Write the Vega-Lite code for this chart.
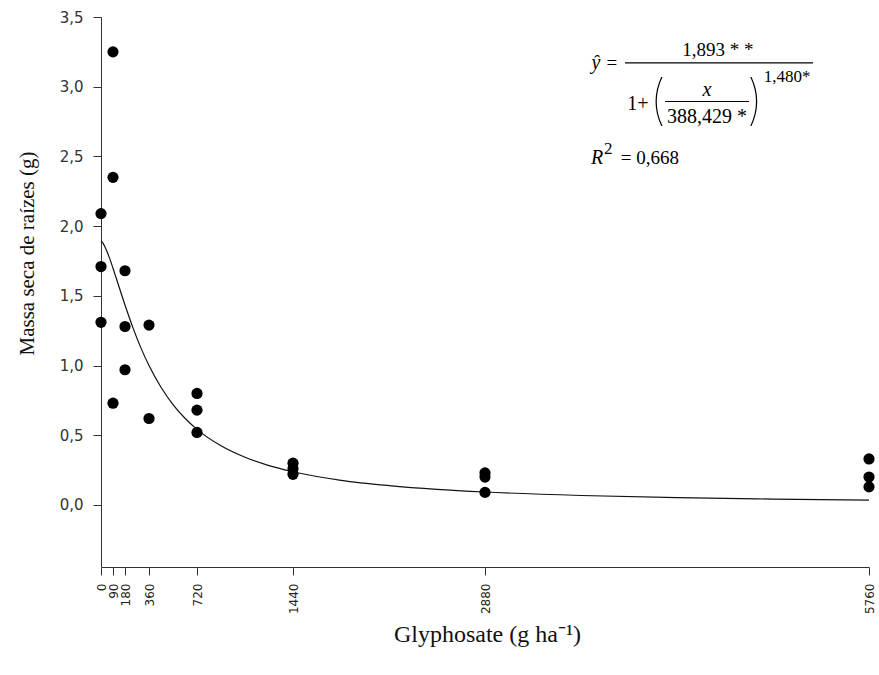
{
  "$schema": "https://vega.github.io/schema/vega-lite/v6.json",
  "width": 768,
  "height": 550,
  "autosize": {"type": "none"},
  "padding": {"left": 101, "top": 17, "right": 10, "bottom": 108},
  "background": "white",
  "config": {"view": {"stroke": null}, "axis": {"grid": false}},
  "datasets": {
    "obs": [
      {"x": 0, "y": 2.09}, {"x": 0, "y": 1.71}, {"x": 0, "y": 1.31},
      {"x": 90, "y": 3.25}, {"x": 90, "y": 2.35}, {"x": 90, "y": 0.73},
      {"x": 180, "y": 1.68}, {"x": 180, "y": 1.28}, {"x": 180, "y": 0.97},
      {"x": 360, "y": 1.29}, {"x": 360, "y": 0.62},
      {"x": 720, "y": 0.80}, {"x": 720, "y": 0.68}, {"x": 720, "y": 0.52},
      {"x": 1440, "y": 0.30}, {"x": 1440, "y": 0.26}, {"x": 1440, "y": 0.22},
      {"x": 2880, "y": 0.23}, {"x": 2880, "y": 0.20}, {"x": 2880, "y": 0.09},
      {"x": 5760, "y": 0.33}, {"x": 5760, "y": 0.20}, {"x": 5760, "y": 0.13}
    ],
    "fit": [
      {"x": 0, "y": 1.893}, {"x": 15, "y": 1.878}, {"x": 30, "y": 1.851},
      {"x": 45, "y": 1.818}, {"x": 60, "y": 1.781}, {"x": 90, "y": 1.698},
      {"x": 120, "y": 1.610}, {"x": 180, "y": 1.434}, {"x": 240, "y": 1.270},
      {"x": 300, "y": 1.125}, {"x": 360, "y": 1.000}, {"x": 450, "y": 0.844},
      {"x": 540, "y": 0.720}, {"x": 630, "y": 0.622}, {"x": 720, "y": 0.542},
      {"x": 900, "y": 0.424}, {"x": 1080, "y": 0.342}, {"x": 1260, "y": 0.282},
      {"x": 1440, "y": 0.238}, {"x": 1800, "y": 0.177}, {"x": 2160, "y": 0.139},
      {"x": 2520, "y": 0.112}, {"x": 2880, "y": 0.093}, {"x": 3600, "y": 0.068},
      {"x": 4320, "y": 0.052}, {"x": 5040, "y": 0.042}, {"x": 5760, "y": 0.034}
    ],
    "eqLines": [
      {"x": 3930, "x2": 5340, "y": 3.171},
      {"x": 4230, "x2": 4860, "y": 2.894}
    ],
    "eqMain": [
      {"x": 3832, "y": 3.171, "t": "="},
      {"x": 4627, "y": 3.264, "t": "1,893 * *"},
      {"x": 4117, "y": 2.489, "t": "= 0,668"}
    ],
    "eqDen": [
      {"x": 4027, "y": 2.877, "t": "1+"},
      {"x": 4545, "y": 2.783, "t": "388,429 *"}
    ],
    "eqItalic": [
      {"x": 3712, "y": 3.171, "t": "ŷ"},
      {"x": 4545, "y": 2.977, "t": "x"},
      {"x": 3720, "y": 2.489, "t": "R"}
    ],
    "eqSup": [
      {"x": 5145, "y": 3.070, "t": "1,480*"},
      {"x": 3804, "y": 2.552, "t": "2"}
    ],
    "eqParen": [
      {"x": 4176, "y": 2.884, "t": "("},
      {"x": 4906, "y": 2.884, "t": ")"}
    ]
  },
  "encoding": {
    "x": {
      "field": "x",
      "type": "quantitative",
      "scale": {"domain": [0, 5760], "nice": false, "zero": false},
      "axis": {
        "title": "Glyphosate (g ha⁻¹)",
        "values": [0, 90, 180, 360, 720, 1440, 2880, 5760],
        "format": "d",
        "labelAngle": 270,
        "labelAlign": "right",
        "labelBaseline": "middle",
        "labelFont": "DejaVu Sans",
        "labelFontSize": 12,
        "labelColor": "#222",
        "labelPadding": 8,
        "labelOverlap": false,
        "labelFlush": false,
        "tickSize": 8,
        "tickColor": "#333",
        "domainColor": "#333",
        "titleFont": "Liberation Serif",
        "titleFontSize": 24,
        "titleFontWeight": "normal",
        "titleColor": "#111",
        "titleX": 386,
        "titleY": 74,
        "titleAlign": "center",
        "titleBaseline": "alphabetic"
      }
    },
    "y": {
      "field": "y",
      "type": "quantitative",
      "scale": {"domain": [-0.445, 3.5], "nice": false, "zero": false},
      "axis": {
        "title": "Massa seca de raízes (g)",
        "values": [0, 0.5, 1, 1.5, 2, 2.5, 3, 3.5],
        "labelExpr": "replace(format(datum.value, '.1f'), '.', ',')",
        "labelFont": "DejaVu Sans",
        "labelFontSize": 15,
        "labelColor": "#333",
        "labelPadding": 10,
        "tickSize": 8,
        "tickColor": "#333",
        "domainColor": "#333",
        "titleFont": "Liberation Serif",
        "titleFontSize": 21,
        "titleFontWeight": "normal",
        "titleColor": "#111",
        "titleAngle": 270,
        "titleX": -68,
        "titleY": 236,
        "titleAlign": "center",
        "titleBaseline": "alphabetic"
      }
    }
  },
  "layer": [
    {
      "data": {"name": "fit"},
      "mark": {"type": "line", "color": "#111", "strokeWidth": 1.2, "interpolate": "monotone"}
    },
    {
      "data": {"name": "obs"},
      "mark": {"type": "point", "filled": true, "color": "black", "opacity": 1, "size": 125}
    },
    {
      "data": {"name": "eqLines"},
      "mark": {"type": "rule", "color": "black", "strokeWidth": 1.2},
      "encoding": {"x2": {"field": "x2"}}
    },
    {
      "data": {"name": "eqMain"},
      "mark": {"type": "text", "font": "Liberation Serif", "fontSize": 19, "align": "center", "baseline": "middle", "color": "black"},
      "encoding": {"text": {"field": "t"}}
    },
    {
      "data": {"name": "eqDen"},
      "mark": {"type": "text", "font": "Liberation Serif", "fontSize": 20, "align": "center", "baseline": "middle", "color": "black"},
      "encoding": {"text": {"field": "t"}}
    },
    {
      "data": {"name": "eqItalic"},
      "mark": {"type": "text", "font": "Liberation Serif", "fontSize": 20, "fontStyle": "italic", "align": "center", "baseline": "middle", "color": "black"},
      "encoding": {"text": {"field": "t"}}
    },
    {
      "data": {"name": "eqSup"},
      "mark": {"type": "text", "font": "Liberation Serif", "fontSize": 17, "align": "center", "baseline": "middle", "color": "black"},
      "encoding": {"text": {"field": "t"}}
    },
    {
      "data": {"name": "eqParen"},
      "mark": {"type": "text", "font": "Inter", "fontWeight": 100, "fontSize": 54, "align": "center", "baseline": "middle", "color": "black"},
      "encoding": {"text": {"field": "t"}}
    }
  ]
}
